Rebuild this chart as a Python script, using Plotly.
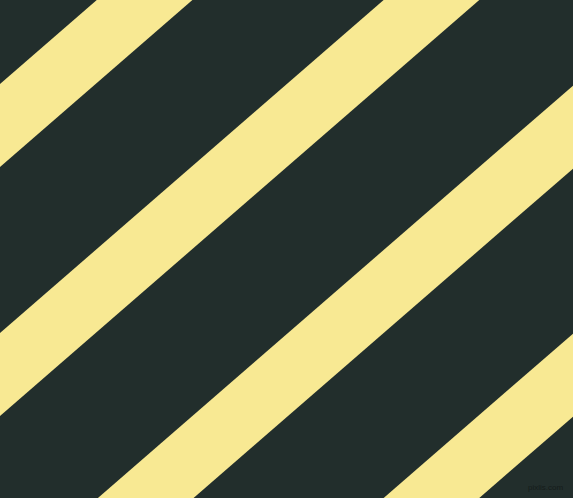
import plotly.graph_objects as go

# canvas size (px) and stripe geometry
W = 573
H = 498
slope = 0.868                       # stripe edges: y = c - slope * x
stripe_starts = [84, 333, 583, 831] # c of upper edge of each yellow stripe
stripe_width = 83                   # c difference between upper and lower edge

bg_color = "#222e2c"
stripe_color = "#f8e993"

fig = go.Figure()

x_left, x_right = -60, W + 60
for c1 in stripe_starts:
    c2 = c1 + stripe_width
    xs = [x_left, x_right, x_right, x_left, x_left]
    ys = [c1 - slope * x_left, c1 - slope * x_right,
          c2 - slope * x_right, c2 - slope * x_left,
          c1 - slope * x_left]
    fig.add_trace(go.Scatter(x=xs, y=ys, mode="lines", fill="toself",
                             fillcolor=stripe_color, line=dict(width=0),
                             hoverinfo="skip", showlegend=False))

fig.add_annotation(x=545, y=487, xref="x", yref="y", text="pixlis.com",
                   showarrow=False,
                   font=dict(family="Liberation Sans", size=8, color="#151c1b"))

fig.update_xaxes(range=[0, W], visible=False, fixedrange=True)
fig.update_yaxes(range=[H, 0], visible=False, fixedrange=True)
fig.update_layout(width=W, height=H, margin=dict(l=0, r=0, t=0, b=0),
                  paper_bgcolor=bg_color, plot_bgcolor=bg_color)

# page has a default body margin; drop it so the figure fills the window
fig.write_html("out.html", config={"displayModeBar": False},
               post_script="document.body.style.margin='0';"
                           "document.body.style.overflow='hidden';")
